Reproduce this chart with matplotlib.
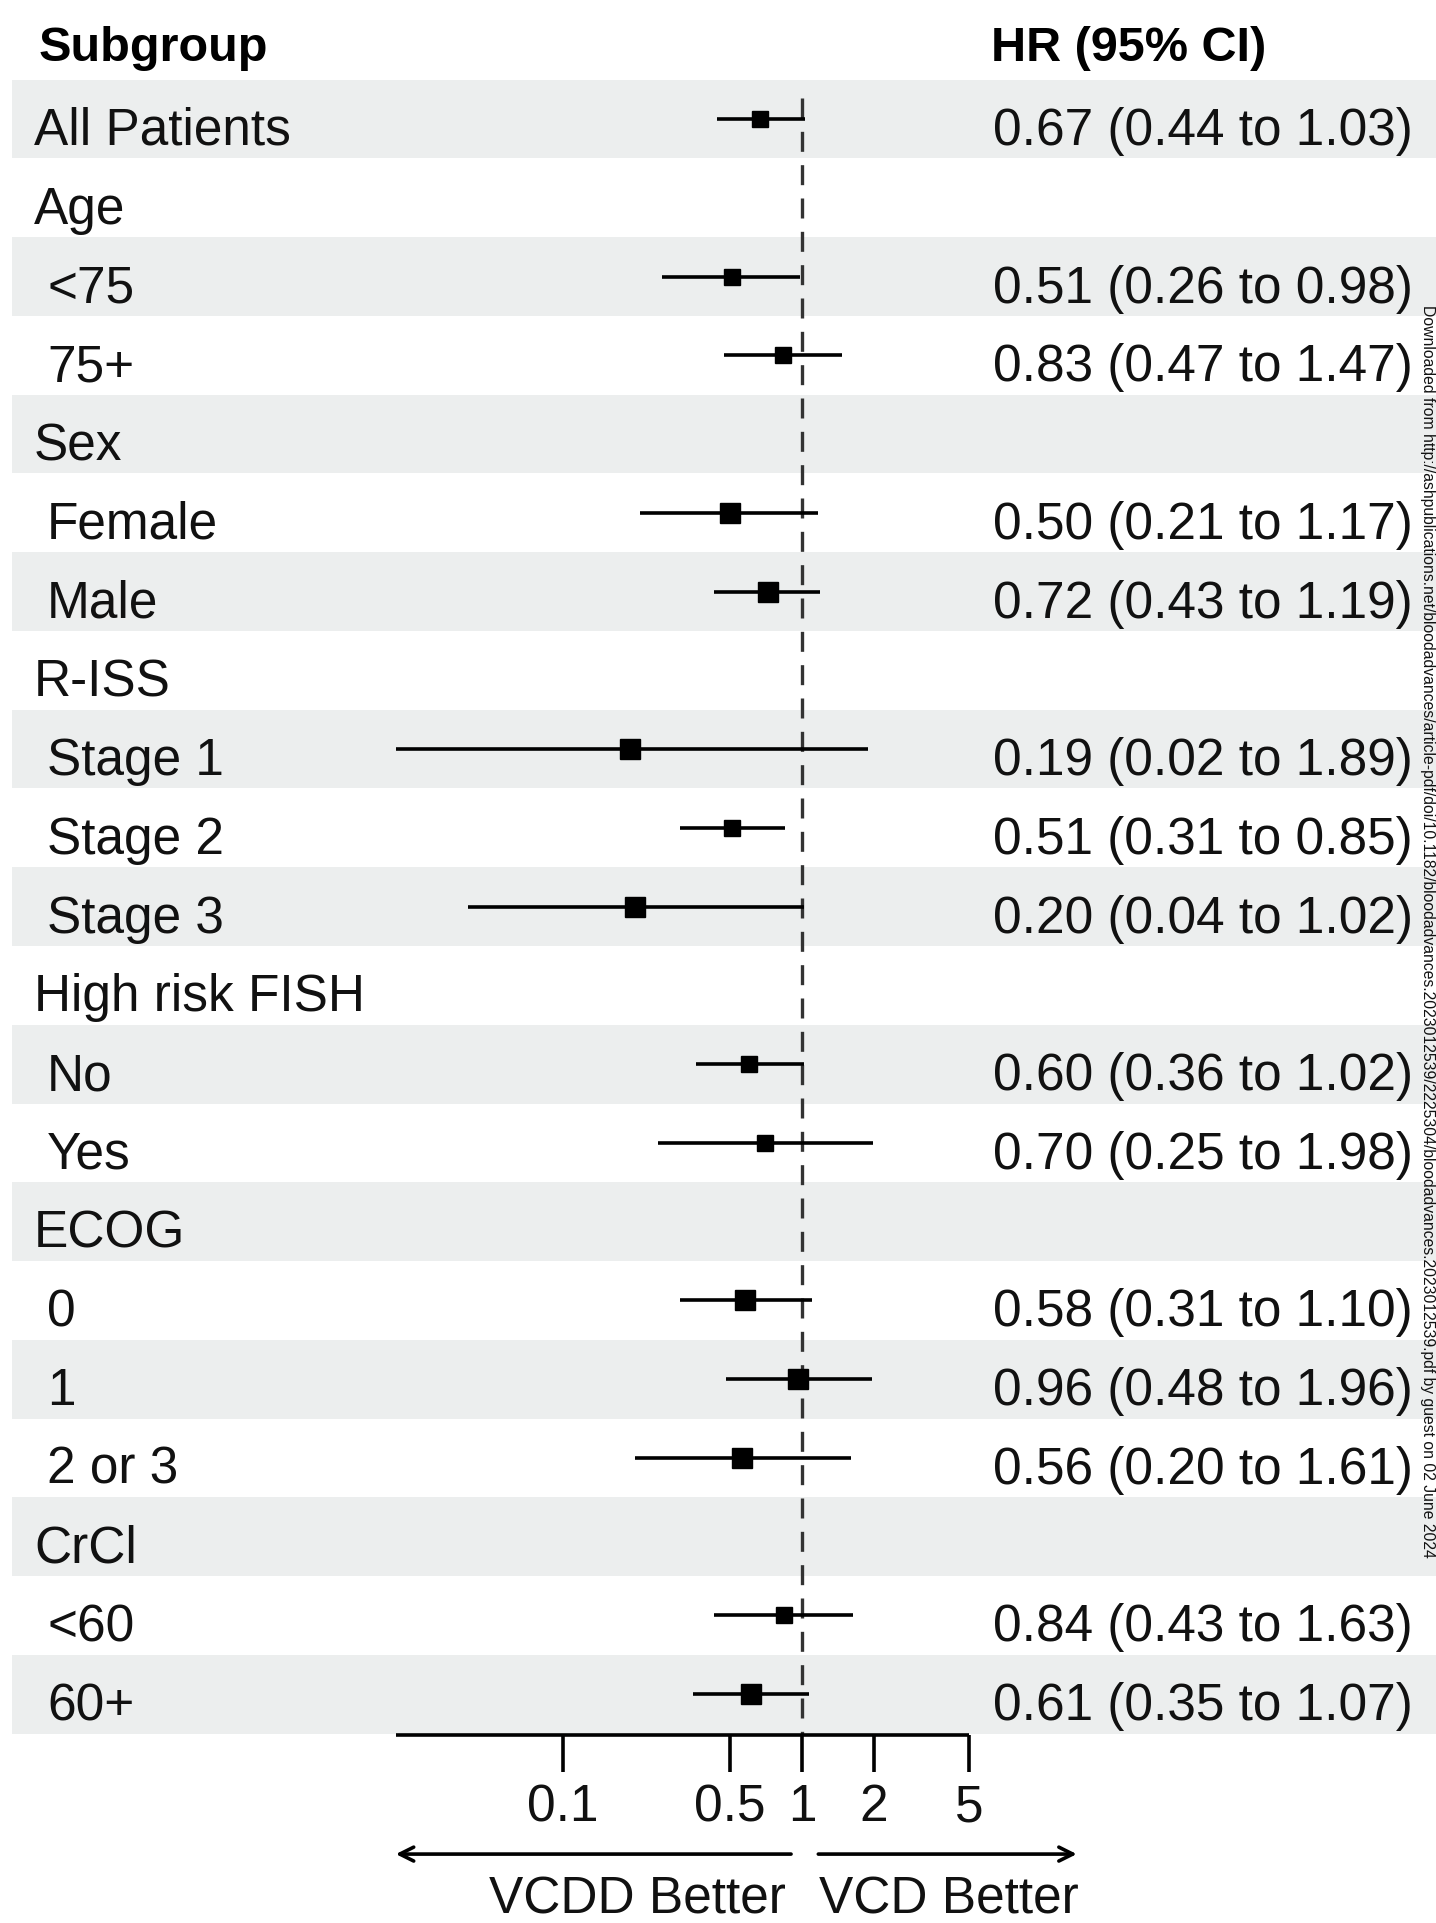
import matplotlib
matplotlib.use("Agg")
import matplotlib.pyplot as plt
import numpy as np

plt.rcParams['font.family'] = ['Liberation Sans', 'DejaVu Sans']

# subgroup rows, top to bottom
labels = ["All Patients", "Age", "<75", "75+", "Sex", "Female", "Male",
          "R-ISS", "Stage 1", "Stage 2", "Stage 3", "High risk FISH", "No", "Yes",
          "ECOG", "0", "1", "2 or 3", "CrCl", "<60", "60+"]
is_header = [False, True, False, False, True, False, False,
             True, False, False, False, True, False, False,
             True, False, False, False, True, False, False]
hr = [0.67, None, 0.51, 0.83, None, 0.50, 0.72,
      None, 0.19, 0.51, 0.20, None, 0.60, 0.70,
      None, 0.58, 0.96, 0.56, None, 0.84, 0.61]
ci_lo = [0.44, None, 0.26, 0.47, None, 0.21, 0.43,
         None, 0.02, 0.31, 0.04, None, 0.36, 0.25,
         None, 0.31, 0.48, 0.20, None, 0.43, 0.35]
ci_hi = [1.03, None, 0.98, 1.47, None, 1.17, 1.19,
         None, 1.89, 0.85, 1.02, None, 1.02, 1.98,
         None, 1.10, 1.96, 1.61, None, 1.63, 1.07]
ticks = [0.1, 0.5, 1, 2, 5]
tick_labels = ["0.1", "0.5", "1", "2", "5"]
axis_range = (0.02, 5)
left_label = "VCDD Better"
right_label = "VCD Better"
side_note = ("Downloaded from http://ashpublications.net/bloodadvances/article-pdf/doi/10.1182/"
             "bloodadvances.2023012539/2225304/bloodadvances.2023012539.pdf by guest on 02 June 2024")

# box widths (points): larger boxes on some rows
box_pt = [12, 0, 12, 12, 0, 15, 15, 0, 15, 12, 15, 0, 12, 12, 0, 15, 15, 15, 0, 12, 15]

W, H = 1436, 1923
fig = plt.figure(figsize=(W / 100, H / 100), dpi=100)
ax = fig.add_axes([0, 0, 1, 1])
ax.set_xscale('log')

# pixel layout: x_px = 802 + 239.1*log10(hr); row r centre at 119 + 78.76*r
x0, dec = 802.0, 239.1
ax.set_xlim(10 ** (-x0 / dec), 10 ** ((W - x0) / dec))
r0, rh = 119.0, 78.76
ax.set_ylim((H - r0) / rh, -r0 / rh)
ax.axis('off')

shade = '#eceeee'
n = len(labels)
for i in range(n):
    if i % 2 == 0:
        ax.axhspan(i - 0.5, i + 0.5, xmin=12 / W, xmax=1, color=shade, lw=0, zorder=0)

tr = ax.get_yaxis_transform()
fs = 37
ax.text(39 / W, -0.74, "Subgroup", transform=tr, fontsize=35, fontweight='bold', va='baseline')
ax.text(991 / W, -0.74, "HR (95% CI)", transform=tr, fontsize=35, fontweight='bold', va='baseline')

for i, lab in enumerate(labels):
    xl = 34 if (is_header[i] or i == 0) else 47
    ax.text(xl / W, i + 0.33, lab, transform=tr, fontsize=fs, va='baseline', color='#111111')
    if hr[i] is None:
        continue
    ax.text(993 / W, i + 0.33, f"{hr[i]:.2f} ({ci_lo[i]:.2f} to {ci_hi[i]:.2f})",
            transform=tr, fontsize=fs, va='baseline', color='#111111')
    ax.plot([ci_lo[i], ci_hi[i]], [i, i], color='black', lw=2.6, solid_capstyle='butt', zorder=3)
    ax.plot(hr[i], i, marker='s', ms=box_pt[i], color='black', mec='black', zorder=4)

# reference line at HR = 1
y_axis = 20.52
ax.plot([1, 1], [-0.27, y_axis], color='#333333', lw=2.4, dashes=(6, 4), zorder=2)

# bottom scale
ax.plot(axis_range, [y_axis, y_axis], color='black', lw=2.6, solid_capstyle='butt')
ax.vlines(ticks, y_axis, 20.99, color='black', lw=2.6)
for t, tl in zip(ticks, tick_labels):
    ax.text(t, 21.61, tl, fontsize=fs, ha='center', va='baseline', color='#111111')

y_arrow = 22.03
ax.annotate('', xy=(axis_range[0], y_arrow), xytext=(0.90, y_arrow),
            arrowprops=dict(arrowstyle='->,head_length=0.5,head_width=0.25', lw=2.6, color='black',
                            shrinkA=0, shrinkB=0, mutation_scale=20))
ax.annotate('', xy=(14.1, y_arrow), xytext=(1.17, y_arrow),
            arrowprops=dict(arrowstyle='->,head_length=0.5,head_width=0.25', lw=2.6, color='black',
                            shrinkA=0, shrinkB=0, mutation_scale=20))
ax.text(786 / W, 22.78, left_label, transform=tr, fontsize=fs, ha='right', va='baseline', color='#111111')
ax.text(819 / W, 22.78, right_label, transform=tr, fontsize=fs, ha='left', va='baseline', color='#111111')

ax.text(1427 / W, 10.31, side_note, transform=tr, fontsize=11.3, rotation=270,
        ha='center', va='center', color='#111111')

fig.savefig('out.png', dpi=100)
